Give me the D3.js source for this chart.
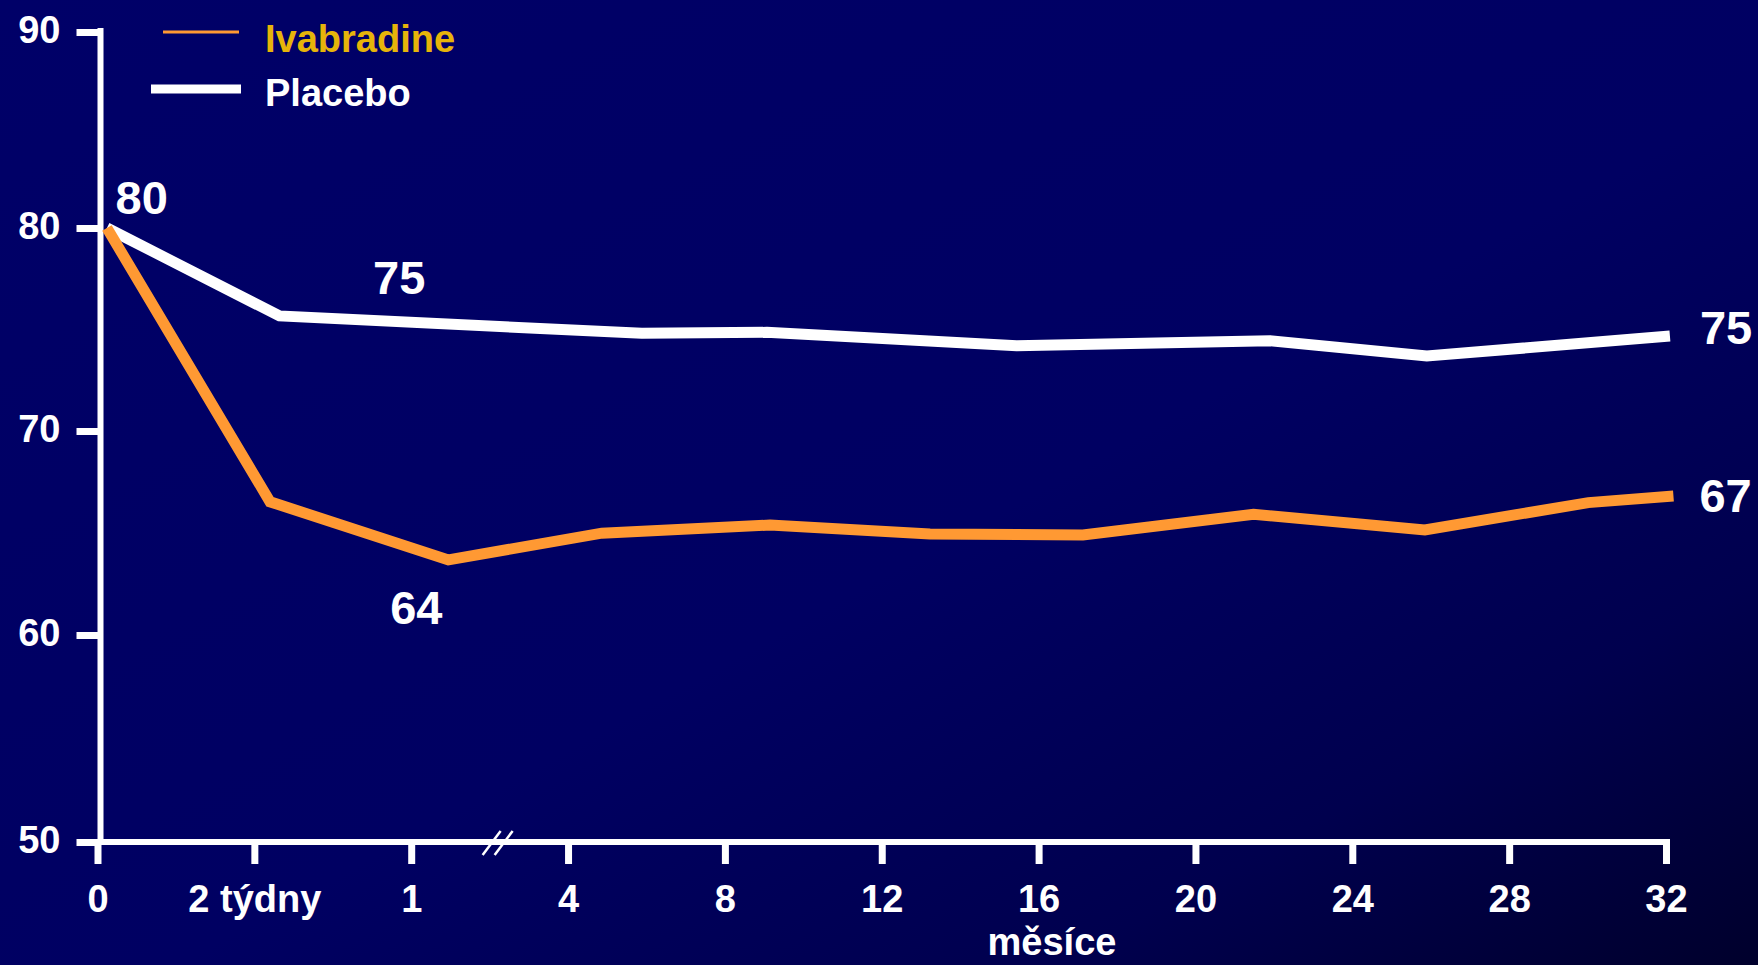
<!DOCTYPE html>
<html>
<head>
<meta charset="utf-8">
<script src="https://cdn.jsdelivr.net/npm/d3@7"></script>
<style>
  html, body { margin: 0; padding: 0; background: #000066; overflow: hidden; }
  svg { display: block; }
  text { font-family: Arial, "Liberation Sans", Helvetica, sans-serif; font-weight: bold; fill: #ffffff; }
</style>
</head>
<body>
<svg id="chart" width="1758" height="965"></svg>
<script>
// ---- data (months after randomisation, heart rate bpm) ----
const xTickMonths = [0, 0.5, 1, 4, 8, 12, 16, 20, 24, 28, 32];
const xTickLabels = ["0", "2 týdny", "1", "4", "8", "12", "16", "20", "24", "28", "32"];
const yTickValues = [50, 60, 70, 80, 90];

const placeboMonths = [0.03, 0.58, 5.88, 9.07, 15.44, 21.9, 25.9, 32.1];
const placeboValues = [80.0, 75.67, 74.81, 74.86, 74.20, 74.45, 73.69, 74.68];

const ivabMonths = [0.03, 0.55, 1.71, 4.86, 9.15, 13.23, 17.13, 21.48, 25.85, 30.02, 32.19];
const ivabValues = [80.0, 66.53, 63.68, 64.99, 65.39, 64.95, 64.90, 65.92, 65.15, 66.49, 66.81];

const seriesNames = ["Ivabradine", "Placebo"];
const axisTitle = "měsíce";
const valueLabels = ["80", "75", "64", "75", "67"];

// ---- layout ----
const W = 1758, H = 965;
const svg = d3.select("#chart");

const defs = svg.append("defs");
const grad = defs.append("linearGradient").attr("id", "bg")
  .attr("x1", "0%").attr("y1", "0%").attr("x2", "100%").attr("y2", "100%");
grad.append("stop").attr("offset", "0%").attr("stop-color", "#000068");
grad.append("stop").attr("offset", "55%").attr("stop-color", "#000062");
grad.append("stop").attr("offset", "80%").attr("stop-color", "#00004e");
grad.append("stop").attr("offset", "100%").attr("stop-color", "#00002c");
svg.append("rect").attr("width", W).attr("height", H).attr("fill", "url(#bg)");

// piecewise x scale: evenly spaced ticks with an axis break after 1 month
const x0 = 97.5, xStep = 156.85;
const x = d3.scaleLinear()
  .domain(xTickMonths)
  .range(xTickMonths.map((d, i) => x0 + i * xStep));

const y = d3.scaleLinear()
  .domain(yTickValues)
  .range([842, 635, 431, 228, 32]);

// ---- axes ----
const xAxis = svg.append("g").attr("transform", `translate(0,${y(50)})`)
  .call(d3.axisBottom(x).tickValues(xTickMonths)
    .tickFormat((d, i) => xTickLabels[i]).tickSize(22).tickSizeOuter(0).tickPadding(12));
xAxis.select(".domain").attr("d", `M${x0},0H${x(32) + 4}`)
  .attr("stroke", "#ffffff").attr("stroke-width", 6);
xAxis.selectAll(".tick line").attr("stroke", "#ffffff").attr("stroke-width", 7);
xAxis.selectAll(".tick text").attr("fill", "#ffffff").attr("font-size", 38)
  .attr("font-family", "Arial, 'Liberation Sans', sans-serif").attr("font-weight", "bold")
  .attr("dy", "0.95em");

const yAxis = svg.append("g").attr("transform", `translate(100.5,0)`)
  .call(d3.axisLeft(y).tickValues(yTickValues).tickSize(24).tickSizeOuter(0).tickPadding(16));
yAxis.select(".domain").attr("d", `M0,${y(50)}V${y(90) - 4}`)
  .attr("stroke", "#ffffff").attr("stroke-width", 6);
yAxis.selectAll(".tick line").attr("stroke", "#ffffff").attr("stroke-width", 7);
yAxis.selectAll(".tick text").attr("fill", "#ffffff").attr("font-size", 38)
  .attr("font-family", "Arial, 'Liberation Sans', sans-serif").attr("font-weight", "bold")
  .attr("dy", "0.28em");

// axis break marks between 1 and 4 months
const bx = (x(1) + x(4)) / 2 + 8;
[-6, 6].forEach(off => {
  svg.append("line")
    .attr("x1", bx + off - 9).attr("y1", y(50) + 13)
    .attr("x2", bx + off + 9).attr("y2", y(50) - 11)
    .attr("stroke", "#ffffff").attr("stroke-width", 2.5);
});

// axis title
svg.append("text").attr("x", 1052).attr("y", 955)
  .attr("text-anchor", "middle").attr("font-size", 38).text(axisTitle);

// ---- lines ----
const line = d3.line().x(d => x(d[0])).y(d => y(d[1]));
const placebo = placeboMonths.map((m, i) => [m, placeboValues[i]]);
const ivab = ivabMonths.map((m, i) => [m, ivabValues[i]]);

svg.append("path").datum(placebo).attr("d", line)
  .attr("fill", "none").attr("stroke", "#ffffff").attr("stroke-width", 11)
  .attr("stroke-linejoin", "miter");
svg.append("path").datum(ivab).attr("d", line)
  .attr("fill", "none").attr("stroke", "#ff9933").attr("stroke-width", 11)
  .attr("stroke-linejoin", "miter");

// ---- value labels ----
const lastP = placebo[placebo.length - 1], lastI = ivab[ivab.length - 1];
const minI = ivab[2];
svg.append("text").attr("x", x(0) + 18).attr("y", y(80) - 14)
  .attr("font-size", 47).text(valueLabels[0]);
svg.append("text").attr("x", x(1) - 12).attr("y", y(75.3) - 29)
  .attr("text-anchor", "middle").attr("font-size", 47).text(valueLabels[1]);
svg.append("text").attr("x", x(minI[0]) - 32).attr("y", y(minI[1]) + 64)
  .attr("text-anchor", "middle").attr("font-size", 47).text(valueLabels[2]);
svg.append("text").attr("x", x(lastP[0]) + 30).attr("y", y(lastP[1]) + 8)
  .attr("font-size", 47).text(valueLabels[3]);
svg.append("text").attr("x", x(lastI[0]) + 26).attr("y", y(lastI[1]) + 16)
  .attr("font-size", 47).text(valueLabels[4]);

// ---- legend ----
svg.append("line").attr("x1", 163).attr("x2", 239).attr("y1", 32).attr("y2", 32)
  .attr("stroke", "#ff9933").attr("stroke-width", 3);
svg.append("text").attr("x", 265).attr("y", 52).attr("font-size", 38)
  .style("fill", "#e6b40a").text(seriesNames[0]);
svg.append("line").attr("x1", 151).attr("x2", 241).attr("y1", 89).attr("y2", 89)
  .attr("stroke", "#ffffff").attr("stroke-width", 9);
svg.append("text").attr("x", 265).attr("y", 106).attr("font-size", 38)
  .text(seriesNames[1]);
</script>
</body>
</html>
